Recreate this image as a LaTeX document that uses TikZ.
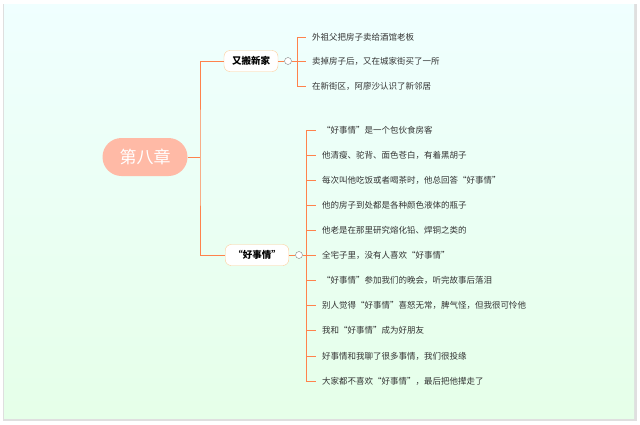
\documentclass[tikz,border=0pt]{standalone}
\usepackage{fontspec}
\setmainfont{Noto Sans CJK SC}
\begin{document}
\begin{tikzpicture}[x=1pt,y=-1pt,
  br/.style={draw=orange!60!red!70!white,line width=1pt},
  leaf/.style={anchor=west,inner sep=0pt,font=\fontsize{8.5}{10}\selectfont,text=black!80},
  sub/.style={draw=orange!40,fill=white,rounded corners=6pt,minimum height=21pt,inner xsep=8pt,font=\fontsize{9.5}{11}\selectfont\bfseries},
  knob/.style={circle,draw=gray,fill=white,inner sep=0pt,minimum size=7pt}]
\useasboundingbox (0,0) rectangle (640,424);
\fill[gray!25] (3,4) rectangle (637,421);
\shade[top color=cyan!6,bottom color=cyan!12!green!10] (4,4) rectangle (634,418);
\node[fill=orange!45!red!35!white,rounded corners=19pt,minimum width=85pt,minimum height=38pt,text=white,font=\fontsize{17}{20}\selectfont] (root) at (145,157) {第八章};
\node[sub] (a) at (251,61) {又搬新家};
\node[sub] (b) at (257,255) {“好事情”};
\coordinate (j) at (200,157);
\draw[br] (root.east) -- (j);
\draw[br] (a.west) -| (j) |- (b.west);
\node[knob] (ka) at (288,61) {};
\node[knob] (kb) at (299,255) {};
\draw[br] (a.east) -- (ka);
\draw[br] (b.east) -- (kb);
\coordinate (ta) at (297,37);
\coordinate (tb) at (297,86);
\draw[br] (ka) -- (297,61);
\draw[br] (ta) -- (tb);
\foreach \y/\t in {37/外祖父把房子卖给酒馆老板,61/卖掉房子后，又在城家街买了一所,86/在新街区，阿廖沙认识了新邻居}{
  \node[leaf] (la\y) at (312,\y) {\t};
  \draw[br] (297,\y) -- (la\y.west -| 306,0);
}
\draw[br] (kb) -- (306,255);
\draw[br] (306,130) -- (306,381);
\foreach \y/\t in {130/“好事情”是一个包伙食房客,155/他清瘦、驼背、面色苍白，有着黑胡子,180/每次叫他吃饭或者喝茶时，他总回答“好事情”,205/他的房子到处都是各种颜色液体的瓶子,230/他老是在那里研究熔化铅、焊铜之类的,255/全宅子里，没有人喜欢“好事情”,280/“好事情”参加我们的晚会，听完故事后落泪,305/别人觉得“好事情”喜怒无常，脾气怪，但我很可怜他,330/我和“好事情”成为好朋友,356/好事情和我聊了很多事情，我们很投缘,381/大家都不喜欢“好事情”，最后把他撵走了}{
  \node[leaf] (lb\y) at (322,\y) {\t};
  \draw[br] (306,\y) -- (316,\y);
}
\end{tikzpicture}
\end{document}
